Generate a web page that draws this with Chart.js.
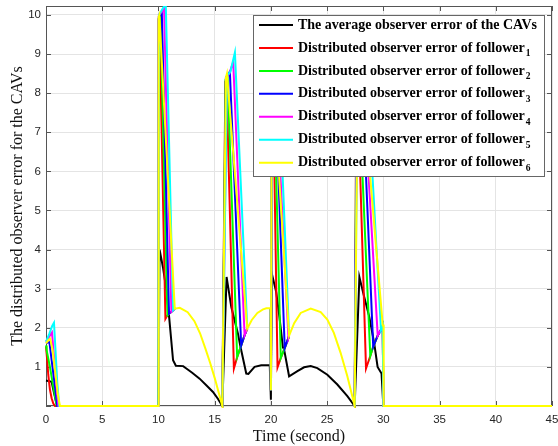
<!DOCTYPE html>
<html>
<head>
<meta charset="utf-8">
<title>Distributed observer error</title>
<script src="https://cdn.jsdelivr.net/npm/chart.js@4.4.1/dist/chart.umd.min.js"></script>
<style>
  html, body { margin: 0; padding: 0; background: #fff; }
  #wrap { width: 558px; height: 446px; }
</style>
</head>
<body>
<div id="wrap"><canvas id="chart" width="558" height="446"></canvas></div>
<script>
// axis ticks
const xTicks = [0, 5, 10, 15, 20, 25, 30, 35, 40, 45];
const yTicks = [0, 1, 2, 3, 4, 5, 6, 7, 8, 9, 10];

// average observer error (black)
const avgT = [0, 0.5, 0.7, 0.9, 1.0, 10.0, 10.1, 10.4, 10.7, 10.95, 11.3, 11.55, 12.2, 12.48, 13.0, 13.66, 14.3, 14.85, 15.3, 15.68,
  16.06, 16.48, 17.07, 17.3, 17.81, 18.0, 18.55, 19.14, 19.9, 19.98, 20.0, 20.08, 20.47, 20.76, 21.06, 21.18, 21.62, 22.36, 22.95, 23.54,
  24.13, 25.02, 25.91, 26.8, 27.45, 27.87, 28.3, 28.75, 29.19, 29.49, 29.84, 30.0, 45];
const avgV = [0.65, 0.62, 0.35, 0.1, 0, 0, 4.0, 3.55, 2.98, 2.28, 1.17, 1.03, 1.02, 0.96, 0.85, 0.7, 0.52, 0.36, 0.18, 0,
  3.3, 2.53, 1.85, 1.51, 0.83, 0.82, 1.0, 1.04, 1.04, 0.36, 0.16, 3.39, 2.92, 2.28, 1.51, 1.44, 0.76, 0.89, 0.99, 1.02,
  0.97, 0.8, 0.55, 0.25, 0, 3.3, 2.79, 2.28, 1.6, 1.0, 0.83, 0, 0];

// trajectories the followers share after their drop in each switching interval
const arc2T = [10.62, 10.8, 10.94, 11.15, 11.3, 11.45, 11.9, 12.6, 13.2, 13.7, 14.2, 14.6, 15.0, 15.4, 15.68];
const arc2V = [2.23, 2.32, 2.36, 2.41, 2.45, 2.49, 2.51, 2.4, 2.17, 1.86, 1.45, 1.1, 0.72, 0.3, 0];
const arc3T = [16.71, 17.0, 17.36, 17.66, 17.9, 18.3, 18.8, 19.3, 19.6, 19.97];
const arc3V = [0.96, 1.25, 1.55, 1.81, 1.98, 2.2, 2.38, 2.47, 2.5, 2.5];
const arc4T = [20.59, 20.88, 21.23, 21.56, 21.62, 22.07, 22.65, 23.54, 24.43, 25.02, 25.6, 26.2, 26.8, 27.24, 27.45];
const arc4V = [0.99, 1.23, 1.48, 1.74, 1.8, 2.12, 2.38, 2.49, 2.4, 2.21, 1.87, 1.36, 0.76, 0.25, 0];
const arc5T = [28.46, 28.84, 29.1, 29.5, 29.79, 29.95];
const arc5V = [0.96, 1.28, 1.52, 1.8, 1.95, 2.06];

// followers 1..6 (own points: start, jumps, peaks, drop minimum)
const f1T = [0, 0.1, 0.2, 0.35, 0.5, 0.65, 0.8, 10.0, 10.02, 10.08, 10.62, 15.95, 16.05, 16.71, 20.0, 20.1, 20.18, 20.59, 27.6, 27.69, 28.46, 30.0, 45];
const f1V = [1.52, 1.2, 0.8, 0.42, 0.2, 0.06, 0, 0, 9.9, 9.95, 2.23, 8.3, 8.35, 0.96, 0.4, 8.3, 8.35, 0.99, 8.3, 8.35, 0.96, 0, 0];
const f2T = [0, 0.06, 0.35, 0.65, 0.95, 10.0, 10.03, 10.18, 10.8, 15.97, 16.15, 17.0, 20.0, 20.1, 20.25, 20.88, 27.62, 27.77, 28.84, 30.0, 45];
const f2V = [1.55, 1.42, 1.0, 0.49, 0, 0, 9.9, 9.95, 2.32, 8.35, 8.4, 1.25, 0.4, 8.35, 8.4, 1.23, 8.35, 8.4, 1.28, 0, 0];
const f3T = [0, 0.3, 0.5, 0.8, 1.0, 10.0, 10.03, 10.3, 10.94, 16.0, 16.35, 17.36, 20.0, 20.1, 20.33, 21.23, 27.65, 28.07, 29.1, 30.0, 45];
const f3V = [1.6, 1.64, 1.17, 0.49, 0, 0, 9.95, 10.05, 2.36, 8.4, 8.55, 1.55, 0.4, 8.4, 8.55, 1.48, 8.4, 8.55, 1.52, 0, 0];
const f4T = [0, 0.3, 0.53, 0.7, 0.9, 1.1, 10.0, 10.04, 10.5, 11.15, 16.08, 16.3, 16.65, 17.66, 20.0, 20.1, 20.35, 21.56, 27.67, 28.11, 29.5, 30.0, 45];
const f4V = [1.65, 1.78, 1.88, 1.3, 0.6, 0, 0, 10.0, 10.15, 2.41, 8.42, 8.5, 8.8, 1.81, 0.4, 8.45, 8.8, 1.74, 8.45, 8.8, 1.8, 0, 0];
const f5T = [0, 0.3, 0.55, 0.71, 0.85, 1.0, 1.18, 10.0, 10.05, 10.65, 11.3, 16.1, 16.4, 16.8, 17.9, 20.0, 20.1, 20.6, 21.62, 27.7, 28.43, 29.79, 30.0, 45];
const f5V = [1.64, 1.85, 2.05, 2.13, 1.4, 0.6, 0, 0, 10.0, 10.3, 2.45, 8.45, 8.55, 9.04, 1.98, 0.4, 8.5, 9.05, 1.8, 8.5, 9.05, 1.95, 0, 0];
const f6T = [0, 0.2, 0.38, 0.6, 0.85, 1.05, 1.24, 10.0, 10.02, 10.08, 11.45, 16.0, 16.09, 17.9, 20.0, 20.08, 20.15, 21.62, 27.72, 28.05, 29.95, 30.02, 30.03, 45];
const f6V = [1.6, 1.68, 1.72, 1.4, 0.8, 0.3, 0, 0, 9.95, 10.0, 2.49, 8.4, 8.5, 1.98, 0.4, 8.4, 8.5, 1.8, 8.4, 8.5, 2.06, 2.06, 0, 0];

const labels = ['The average observer error of the CAVs', 'Distributed observer error of follower',
  'Distributed observer error of follower', 'Distributed observer error of follower',
  'Distributed observer error of follower', 'Distributed observer error of follower',
  'Distributed observer error of follower'];
const subs = ['', '1', '2', '3', '4', '5', '6'];
const colors = ['#000000', '#ff0000', '#00ff00', '#0000ff', '#ff00ff', '#00ffff', '#ffff00'];

const arcs = [[arc2T, arc2V], [arc3T, arc3V], [arc4T, arc4V], [arc5T, arc5V]];

function toPoints(ts, vs) {
  return ts.map((t, i) => ({ x: t, y: vs[i] }));
}

function lastInside(ts, at) {
  return Math.max(...ts.filter(t => t >= at[0] && t <= at[at.length - 1]));
}

// where follower 6 (drawn on top) joins each shared trajectory
const topJoin = arcs.map(([at]) => lastInside(f6T, at));

// own points + the shared trajectory after the follower's own minimum;
// below the top follower the hidden part of the shared path is left out
function followerPoints(ts, vs, isTop) {
  const pts = toPoints(ts, vs);
  arcs.forEach(([at, av], k) => {
    const tMin = lastInside(ts, at);
    const tEnd = at[at.length - 1];
    at.forEach((t, i) => {
      if (t > tMin && (isTop || t <= topJoin[k] || t === tEnd)) pts.push({ x: t, y: av[i] });
    });
    if (!isTop && topJoin[k] < tEnd && tMin < tEnd) pts.push({ x: (topJoin[k] + tEnd) / 2, y: null });
  });
  return pts.sort((a, b) => a.x - b.x);
}

const seriesData = [
  toPoints(avgT, avgV),
  followerPoints(f1T, f1V, false),
  followerPoints(f2T, f2V, false),
  followerPoints(f3T, f3V, false),
  followerPoints(f4T, f4V, false),
  followerPoints(f5T, f5V, false),
  followerPoints(f6T, f6V, true)
];

const axesBox = {
  id: 'axesBox',
  beforeDatasetsDraw(chart) {
    const { ctx, chartArea: a, scales } = chart;
    ctx.save();
    ctx.strokeStyle = '#555';
    ctx.lineWidth = 1;
    ctx.strokeRect(a.left + 0.5, a.top + 0.5, a.right - a.left - 1, a.bottom - a.top - 1);
    ctx.beginPath();
    xTicks.forEach(v => {
      const px = Math.round(scales.x.getPixelForValue(v)) + 0.5;
      ctx.moveTo(px, a.bottom); ctx.lineTo(px, a.bottom - 5);
      ctx.moveTo(px, a.top); ctx.lineTo(px, a.top + 5);
    });
    yTicks.forEach(v => {
      const py = Math.round(scales.y.getPixelForValue(v)) + 0.5;
      ctx.moveTo(a.left, py); ctx.lineTo(a.left + 5, py);
      ctx.moveTo(a.right, py); ctx.lineTo(a.right - 5, py);
    });
    ctx.stroke();
    ctx.restore();
  }
};

const boxLegend = {
  id: 'boxLegend',
  afterDatasetsDraw(chart) {
    const { ctx, chartArea: a } = chart;
    const bx = a.right - 299, by = a.top + 9, bw = 291, bh = 161;
    ctx.save();
    ctx.fillStyle = '#fff';
    ctx.fillRect(bx, by, bw, bh);
    ctx.strokeStyle = '#666';
    ctx.lineWidth = 1;
    ctx.strokeRect(bx + 0.5, by + 0.5, bw, bh);
    labels.forEach((text, i) => {
      const y = by + 10 + i * 22.95;
      ctx.strokeStyle = colors[i];
      ctx.lineWidth = 2;
      ctx.beginPath();
      ctx.moveTo(bx + 6, y); ctx.lineTo(bx + 40, y);
      ctx.stroke();
      ctx.fillStyle = '#000';
      ctx.textBaseline = 'middle';
      ctx.textAlign = 'left';
      ctx.font = 'bold 14px "Liberation Serif", "Times New Roman", serif';
      ctx.fillText(text, bx + 45, y);
      if (subs[i]) {
        const w = ctx.measureText(text).width;
        ctx.font = 'bold 9.5px "Liberation Serif", "Times New Roman", serif';
        ctx.fillText(subs[i], bx + 46 + w, y + 6);
      }
    });
    ctx.restore();
  }
};

new Chart(document.getElementById('chart'), {
  type: 'line',
  data: {
    datasets: seriesData.map((pts, i) => ({
      label: labels[i] + subs[i],
      data: pts,
      borderColor: colors[i],
      backgroundColor: colors[i],
      borderWidth: 2,
      pointRadius: 0,
      tension: 0,
      fill: false,
      spanGaps: false,
      clip: { left: 1, right: 1, top: 0, bottom: 2 },
      order: 6 - i
    }))
  },
  options: {
    responsive: false,
    animation: false,
    devicePixelRatio: 1,
    layout: { padding: { top: 6, right: 6, left: 0, bottom: 0 } },
    plugins: { legend: { display: false }, tooltip: { enabled: false } },
    scales: {
      x: {
        type: 'linear',
        min: 0,
        max: 45,
        afterBuildTicks: s => { s.ticks = xTicks.map(v => ({ value: v })); },
        afterFit: s => { s.height = 40; s.paddingLeft = 0; s.paddingRight = 0; },
        grid: { color: '#e4e4e4', drawTicks: false },
        border: { display: false },
        ticks: {
          padding: 7,
          maxRotation: 0,
          color: '#262626',
          font: { family: '"Liberation Sans", Arial, sans-serif', size: 11.5 }
        },
        title: {
          display: true,
          text: 'Time (second)',
          color: '#111',
          padding: { top: 0, bottom: 0 },
          font: { family: '"Liberation Serif", "Times New Roman", serif', size: 16 }
        }
      },
      y: {
        min: 0,
        max: 10.23,
        afterBuildTicks: s => { s.ticks = yTicks.map(v => ({ value: v })); },
        afterFit: s => { s.width = 46; s.paddingTop = 0; s.paddingBottom = 0; },
        grid: { color: '#e4e4e4', drawTicks: false },
        border: { display: false },
        ticks: {
          padding: 5,
          color: '#262626',
          font: { family: '"Liberation Sans", Arial, sans-serif', size: 11.5 },
          callback: v => (v === 0 ? '' : v)
        },
        title: {
          display: true,
          text: 'The distributed observer error for the CAVs',
          color: '#111',
          padding: { top: 8, bottom: 0 },
          font: { family: '"Liberation Serif", "Times New Roman", serif', size: 16 }
        }
      }
    }
  },
  plugins: [axesBox, boxLegend]
});
</script>
</body>
</html>
